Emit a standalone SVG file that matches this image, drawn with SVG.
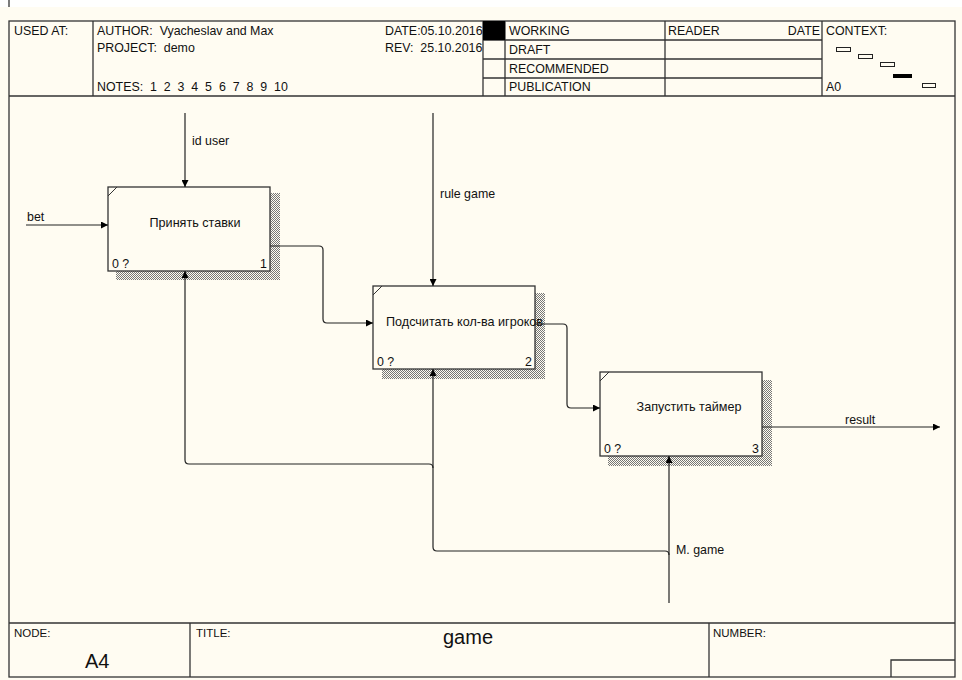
<svg xmlns="http://www.w3.org/2000/svg" width="962" height="680" viewBox="0 0 962 680">
<defs>
<style>
.t{font-family:"Liberation Sans",Arial,sans-serif;font-size:12.4px;fill:#111}
.b{font-family:"Liberation Sans",Arial,sans-serif;font-size:12.6px;fill:#111}
.s{font-family:"Liberation Sans",Arial,sans-serif;font-size:11.5px;fill:#111}
.fr{fill:none;stroke:#333;stroke-width:1.3}
.bx{fill:#fffcf2;stroke:#333;stroke-width:1.3}
.c{fill:none;stroke:#222;stroke-width:1.2}
.sh{fill:url(#hatch)}
</style>
<pattern id="hatch" width="2" height="2" patternUnits="userSpaceOnUse">
<rect width="2" height="2" fill="#fffcf2"/>
<rect width="1" height="1" fill="#777"/>
<rect x="1" y="1" width="1" height="1" fill="#777"/>
</pattern>
<marker id="ar" viewBox="0 0 10 10" refX="10" refY="5" markerWidth="9" markerHeight="7" markerUnits="userSpaceOnUse" orient="auto">
<path d="M0,0 L10,5 L0,10 Z" fill="#000"/>
</marker>
</defs>
<rect width="962" height="680" fill="#ffffff"/>
<rect x="0" y="7" width="962" height="673" fill="#fffcf2"/>
<line x1="9" y1="0" x2="9" y2="7" stroke="#333" stroke-width="1.3"/>

<g id="frame">
<rect class="fr" x="9" y="21" width="946" height="656"/>
<line class="fr" x1="9" y1="96" x2="955" y2="96"/>
<line class="fr" x1="9" y1="623" x2="955" y2="623"/>
<line class="fr" x1="93" y1="21" x2="93" y2="96"/>
<line class="fr" x1="483" y1="21" x2="483" y2="96"/>
<line class="fr" x1="505" y1="21" x2="505" y2="96"/>
<line class="fr" x1="665" y1="21" x2="665" y2="96"/>
<line class="fr" x1="822" y1="21" x2="822" y2="96"/>
<line class="fr" x1="483" y1="40" x2="822" y2="40"/>
<line class="fr" x1="483" y1="59" x2="822" y2="59"/>
<line class="fr" x1="483" y1="78" x2="822" y2="78"/>
<line class="fr" x1="190" y1="623" x2="190" y2="677"/>
<line class="fr" x1="709" y1="623" x2="709" y2="677"/>
<polyline class="fr" points="891,677 891,660 955,660"/>
</g>

<g id="header-text">
<text class="t" x="14" y="35">USED AT:</text>
<text class="t" x="97" y="35" xml:space="preserve">AUTHOR:  Vyacheslav and Max</text>
<text class="t" x="97" y="52" xml:space="preserve">PROJECT:  demo</text>
<text class="t" x="97" y="91" xml:space="preserve">NOTES:  1  2  3  4  5  6  7  8  9  10</text>
<text class="t" x="385" y="35">DATE:05.10.2016</text>
<text class="t" x="385" y="52" xml:space="preserve">REV:  25.10.2016</text>
<rect x="483" y="21" width="22" height="19" fill="#000"/>
<text class="t" x="509" y="35">WORKING</text>
<text class="t" x="509" y="54">DRAFT</text>
<text class="t" x="509" y="73">RECOMMENDED</text>
<text class="t" x="509" y="91">PUBLICATION</text>
<text class="t" x="668" y="35">READER</text>
<text class="t" x="820" y="35" text-anchor="end">DATE</text>
<text class="t" x="826" y="35">CONTEXT:</text>
<text class="t" x="826" y="91">A0</text>
<rect x="836.5" y="47.5" width="14" height="4" fill="#fffcf2" stroke="#222" stroke-width="1"/>
<rect x="858.5" y="54.5" width="14" height="4" fill="#fffcf2" stroke="#222" stroke-width="1"/>
<rect x="880.5" y="62.5" width="14" height="4" fill="#fffcf2" stroke="#222" stroke-width="1"/>
<rect x="893" y="74" width="19" height="4" fill="#000"/>
<rect x="922.5" y="83.5" width="13" height="4" fill="#fffcf2" stroke="#222" stroke-width="1"/>
</g>

<g id="footer-text">
<text class="s" x="14" y="637">NODE:</text>
<text x="85" y="668" font-family="Liberation Sans, Arial, sans-serif" font-size="20" fill="#111">A4</text>
<text class="s" x="196" y="637">TITLE:</text>
<text x="468" y="644" font-family="Liberation Sans, Arial, sans-serif" font-size="20" fill="#111" text-anchor="middle">game</text>
<text class="s" x="713" y="637">NUMBER:</text>
</g>

<g id="node1">
<rect class="sh" x="270" y="193" width="10" height="87"/>
<rect class="sh" x="116" y="271" width="164" height="9"/>
<rect class="bx" x="108" y="187" width="162" height="84"/>
<line x1="108" y1="196" x2="117" y2="187" stroke="#333" stroke-width="1"/>
<text class="b" x="195" y="227" text-anchor="middle">Принять ставки</text>
<text class="t" x="112" y="268">0 ?</text>
<text class="t" x="260" y="268">1</text>
</g>

<g id="node2">
<rect class="sh" x="535" y="293" width="10" height="86"/>
<rect class="sh" x="382" y="369" width="163" height="10"/>
<rect class="bx" x="373" y="286" width="162" height="83"/>
<line x1="373" y1="295" x2="382" y2="286" stroke="#333" stroke-width="1"/>
<text class="b" x="386" y="326">Подсчитать кол-ва игроков</text>
<text class="t" x="377" y="366">0 ?</text>
<text class="t" x="525" y="366">2</text>
</g>

<g id="node3">
<rect class="sh" x="762" y="380" width="10" height="86"/>
<rect class="sh" x="608" y="456" width="164" height="10"/>
<rect class="bx" x="600" y="372" width="162" height="84"/>
<line x1="600" y1="381" x2="609" y2="372" stroke="#333" stroke-width="1"/>
<text class="b" x="689" y="411" text-anchor="middle">Запустить таймер</text>
<text class="t" x="604" y="453">0 ?</text>
<text class="t" x="752" y="453">3</text>
</g>

<g id="connectors">
<line class="c" x1="185" y1="113" x2="185" y2="187" marker-end="url(#ar)"/>
<text class="t" x="192" y="145">id user</text>
<line class="c" x1="26" y1="225" x2="108" y2="225" marker-end="url(#ar)"/>
<text class="t" x="27" y="221">bet</text>
<path class="c" d="M270,246 H319 Q323,246 323,250 V319 Q323,323 327,323 H373" marker-end="url(#ar)"/>
<line class="c" x1="433" y1="113" x2="433" y2="286" marker-end="url(#ar)"/>
<text class="t" x="440" y="198">rule game</text>
<path class="c" d="M535,324 H563 Q567,324 567,328 V404 Q567,408 571,408 H600" marker-end="url(#ar)"/>
<line class="c" x1="762" y1="427" x2="940" y2="427" marker-end="url(#ar)"/>
<text class="t" x="845" y="424">result</text>
<line class="c" x1="669" y1="603" x2="669" y2="456" marker-end="url(#ar)"/>
<text class="t" x="676" y="554">M. game</text>
<path class="c" d="M669,555 Q669,551 665,551 H437 Q433,551 433,547 V369" marker-end="url(#ar)"/>
<path class="c" d="M433,468 Q433,464 429,464 H189 Q185,464 185,460 V271" marker-end="url(#ar)"/>
</g>
</svg>
